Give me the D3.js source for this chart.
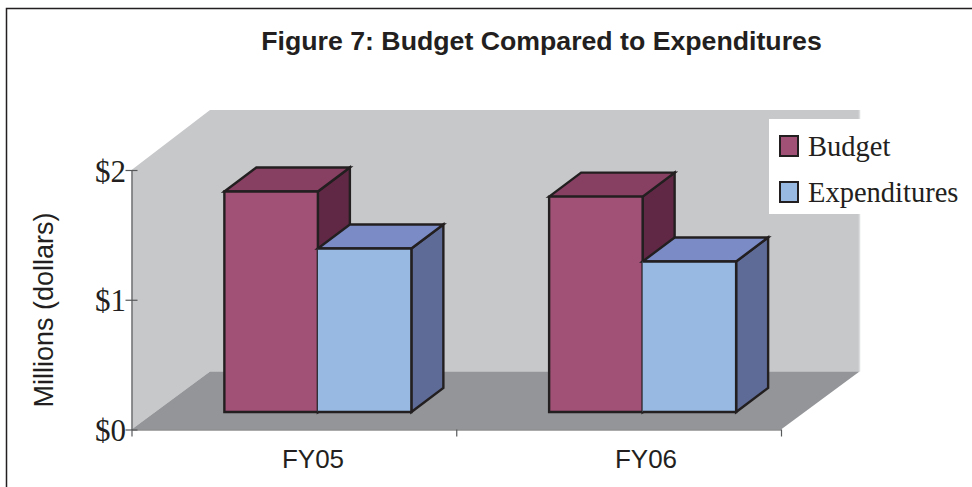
<!DOCTYPE html>
<html>
<head>
<meta charset="utf-8">
<script src="https://cdn.jsdelivr.net/npm/d3@7"></script>
<style>
    html, body { margin: 0; padding: 0; background: #fff; }
    svg { display: block; }
</style>
</head>
<body>
<svg id="chart" width="972" height="487"></svg>
<script>
const categories = ['FY05', 'FY06'];
const seriesNames = ['Budget', 'Expenditures'];
const budgetValues = [1.70, 1.66];
const expenditureValues = [1.26, 1.16];
const yTicks = [0, 1, 2];
const chartTitle = 'Figure 7: Budget Compared to Expenditures';
const yAxisTitle = 'Millions (dollars)';

const serif = '"Liberation Serif", serif';
const sans = '"Liberation Sans", sans-serif';
const inkColor = '#231f20';
const axisColor = '#58595b';

const seriesColors = {
    Budget: { front: '#a05175', top: '#873f62', side: '#612845' },
    Expenditures: { front: '#97b9e2', top: '#7b8bc6', side: '#5e6b97' }
};

const svg = d3.select('#chart');

const x = d3.scaleBand().domain(categories).range([131.5, 781]);
const xEdges = d3.scaleLinear().domain([0, categories.length]).range([131.5, 781]);
const xLabels = d3.scalePoint().domain(categories).range([313, 646]);
const y = d3.scaleLinear().domain([0, 2]).range([429.5, 170]);
const xSeries = d3.scaleBand().domain(seriesNames).range([-93.5, 93.5]);

const wallDepth = { x: 78.5, y: -58, topY: -60 };
const barOffset = { x: 24, y: -17.5 };
const barDepth = { x: 32, y: -24 };
const barStroke = 2.4;

function poly(points, fill, stroke, strokeWidth) {
    return svg.append('polygon')
        .attr('points', points.map((p) => p.join(',')).join(' '))
        .attr('fill', fill)
        .attr('stroke', stroke || 'none')
        .attr('stroke-width', strokeWidth || 0)
        .attr('stroke-linejoin', 'miter');
}

function renderFrame() {
    svg.append('path')
        .attr('d', 'M6.5,487V8.5H972')
        .attr('fill', 'none')
        .attr('stroke', inkColor)
        .attr('stroke-width', 1.5);
}

function renderWalls() {
    const x0 = x.range()[0];
    const x1 = x.range()[1];
    const yTop = y(2);
    const yBottom = y(0);
    const dx = wallDepth.x;
    const dy = wallDepth.y;

    // Left and back wall
    poly([[x0, yBottom], [x0, yTop], [x0 + dx, yTop + wallDepth.topY], [x1 + dx, yTop + wallDepth.topY], [x1 + dx, yBottom + dy], [x0 + dx, yBottom + dy]], '#c7c8ca');
    // Floor
    poly([[x0, yBottom], [x0 + dx, yBottom + dy], [x1 + dx, yBottom + dy], [x1, yBottom]], '#939598');
    // Light edge on the back wall
    svg.append('line')
        .attr('x1', x1 + dx).attr('x2', x1 + dx)
        .attr('y1', yTop + wallDepth.topY).attr('y2', yBottom + dy)
        .attr('stroke', '#dcddde').attr('stroke-width', 1.5);
}

function renderBars() {
    categories.forEach((category, i) => {
        const center = x(category) + x.bandwidth() / 2 + barOffset.x;
        const values = [budgetValues[i], expenditureValues[i]];

        seriesNames.forEach((name, j) => {
            const colors = seriesColors[name];
            const left = center + xSeries(name);
            const right = left + xSeries.bandwidth();
            const top = y(values[j]) + barOffset.y;
            const base = y(0) + barOffset.y;
            const dx = barDepth.x;
            const dy = barDepth.y;

            poly([[right, top], [right + dx, top + dy], [right + dx, base + dy], [right, base]], colors.side, inkColor, barStroke);
            poly([[left, top], [left + dx, top + dy], [right + dx, top + dy], [right, top]], colors.top, inkColor, barStroke);

            if (j === 0) {
                poly([[left, top], [right, top], [right, base], [left, base]], colors.front, inkColor, barStroke);
            } else {
                // no left edge here, the fill covers half of the neighbour's line
                poly([[left, top], [right, top], [right, base], [left, base]], colors.front);
                svg.append('path')
                    .attr('d', `M${left},${top}H${right}V${base}H${left}`)
                    .attr('fill', 'none')
                    .attr('stroke', inkColor)
                    .attr('stroke-width', barStroke);
            }
        });
    });
}

function renderAxes() {
    const yAxis = svg.append('g')
        .attr('transform', `translate(${x.range()[0]},0)`)
        .call(d3.axisLeft(y).tickValues(yTicks).tickFormat((d) => '$' + d).tickSize(6).tickSizeOuter(0));
    yAxis.select('.domain').attr('stroke', axisColor).attr('stroke-width', 1.2);
    yAxis.selectAll('.tick line').attr('x1', -6).attr('x2', 6).attr('stroke', axisColor).attr('stroke-width', 1.2);
    yAxis.selectAll('.tick text')
        .attr('x', -5.5).attr('dy', '0.36em')
        .attr('font-family', serif).attr('font-size', 31).attr('fill', inkColor);

    const xAxis = svg.append('g')
        .attr('transform', `translate(0,${y(0)})`)
        .call(d3.axisBottom(xEdges).tickValues(d3.range(categories.length + 1)).tickFormat('').tickSize(7).tickSizeOuter(0));
    xAxis.select('.domain').attr('stroke', axisColor).attr('stroke-width', 1.2);
    xAxis.selectAll('.tick line').attr('stroke', axisColor).attr('stroke-width', 1.2);

    svg.selectAll('text.category')
        .data(categories)
        .enter().append('text')
        .attr('class', 'category')
        .attr('x', (d) => xLabels(d))
        .attr('y', 468)
        .attr('text-anchor', 'middle')
        .attr('font-family', sans).attr('font-size', 26).attr('fill', inkColor)
        .text((d) => d);
}

function renderLabels() {
    svg.append('text')
        .attr('x', 541.5).attr('y', 50)
        .attr('text-anchor', 'middle')
        .attr('font-family', sans).attr('font-size', 26.7).attr('font-weight', 'bold').attr('fill', inkColor)
        .text(chartTitle);

    svg.append('text')
        .attr('transform', 'translate(53,310) rotate(-90)')
        .attr('text-anchor', 'middle')
        .attr('font-family', sans).attr('font-size', 27).attr('fill', inkColor)
        .text(yAxisTitle);
}

function renderLegend() {
    svg.append('rect')
        .attr('x', 769).attr('y', 119).attr('width', 203).attr('height', 95)
        .attr('fill', '#fff');

    seriesNames.forEach((name, i) => {
        svg.append('rect')
            .attr('x', 780).attr('y', 136 + i * 46).attr('width', 18).attr('height', 20)
            .attr('fill', seriesColors[name].front)
            .attr('stroke', inkColor).attr('stroke-width', 2);
        svg.append('text')
            .attr('x', 808).attr('y', 156 + i * 46)
            .attr('font-family', serif).attr('font-size', 28.5).attr('fill', inkColor)
            .text(name);
    });
}

renderFrame();
renderWalls();
renderBars();
renderAxes();
renderLabels();
renderLegend();
</script>
</body>
</html>
